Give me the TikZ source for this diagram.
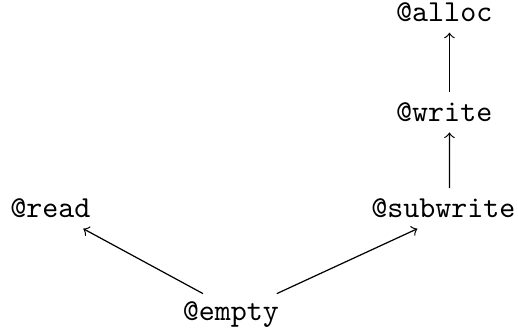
\documentclass[tikz,border=0pt]{standalone}
\usepackage{tikz}

\begin{document}
\begin{tikzpicture}[every node/.style={font=\ttfamily, anchor=base}]
\useasboundingbox (0,0) rectangle (5.97,3.86);
% the lattice of effects
\node (alloc)    at (5.12,3.61) {@alloc};
\node (write)    at (5.12,2.46) {@write};
\node (subwrite) at (5.11,1.35) {@subwrite};
\node (read)     at (0.58,1.35) {@read};
\node (empty)    at (2.66,0.17) {@empty};
\draw[->] ([xshift=0.06cm]write.north)    -- ([xshift=0.06cm]alloc.south);
\draw[->] ([xshift=0.07cm]subwrite.north) -- ([xshift=0.06cm]write.south);
\draw[->] ([xshift=-0.32cm,yshift=-1pt]empty.north) -- ([xshift=0.38cm]read.south);
\draw[->] ([xshift=0.53cm,yshift=-1pt]empty.north)  -- ([xshift=-0.30cm]subwrite.south);
\end{tikzpicture}
\end{document}
